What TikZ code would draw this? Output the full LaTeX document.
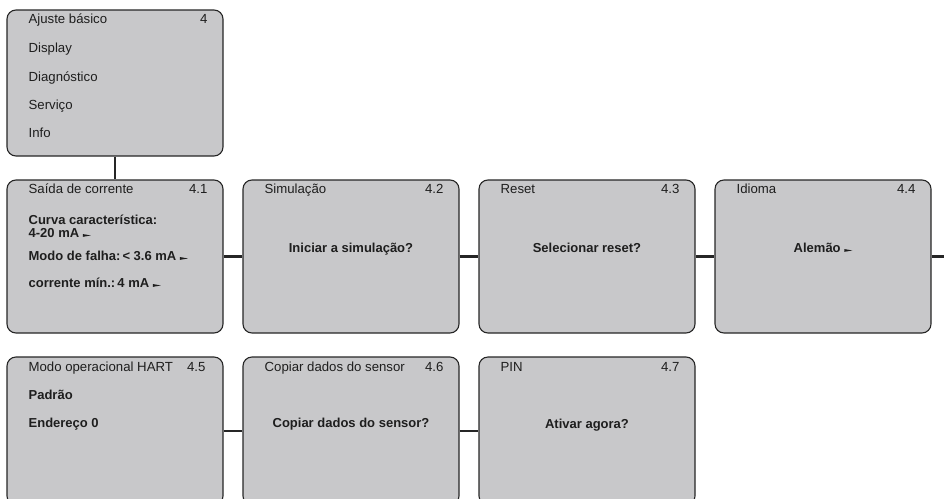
\documentclass[tikz,border=0pt]{standalone}
\usepackage{fontspec}
\setmainfont{Liberation Sans}
\usetikzlibrary{calc}

\definecolor{boxfill}{RGB}{200,200,202}
\definecolor{linedark}{RGB}{38,38,38}
\definecolor{textdark}{RGB}{30,30,30}

% small pointer after a value
\newcommand{\pointer}{\ \tikz[baseline=0pt]\fill[textdark] (0pt,0.6pt) -- (0pt,3.4pt) -- (8pt,2pt) -- cycle;}

\begin{document}
\begin{tikzpicture}[x=1pt, y=-1pt,
    menubox/.style={draw=linedark, line width=1.1pt, fill=boxfill, rounded corners=9pt,
        minimum width=216pt, inner sep=0pt},
    title/.style={inner sep=0pt, font=\fontsize{13.2}{15}\selectfont, text=textdark},
    value/.style={inner sep=0pt, font=\fontsize{13}{15}\selectfont\bfseries, text=textdark},
    link/.style={draw=linedark, line width=2.9pt}]

        % Frame
        \useasboundingbox (0,0) rectangle (944,498);
        \clip (0,0) rectangle (944,498);

        % Box sizes
        \def\rowA{256.5}
        \def\rowB{431}

        % Main menu
        \node[menubox, minimum height=146pt] (main) at (115,83) {};
        \node[title, anchor=base west] (mainT) at ($(main.north west)+(22,14)$) {Ajuste básico};
        \node[title, anchor=base east] (mainN) at ($(main.north east)+(-16,14)$) {4};
        \node[title, anchor=base west] (mainA) at ($(main.north west)+(22,43)$) {Display};
        \node[title, anchor=base west] (mainB) at ($(main.north west)+(22,72)$) {Diagnóstico};
        \node[title, anchor=base west] (mainC) at ($(main.north west)+(22,100)$) {Serviço};
        \node[title, anchor=base west] (mainD) at ($(main.north west)+(22,128)$) {Info};

        % First row
        \node[menubox, minimum height=153pt] (current) at (115,\rowA) {};
        \node[menubox, minimum height=153pt] (simul) at (351,\rowA) {};
        \node[menubox, minimum height=153pt] (reset) at (587,\rowA) {};
        \node[menubox, minimum height=153pt] (lang) at (823,\rowA) {};

        \node[title, anchor=base west] (currentT) at ($(current.north west)+(22,14)$) {Saída de corrente};
        \node[title, anchor=base east] (currentN) at ($(current.north east)+(-16,14)$) {4.1};
        \node[value, anchor=base west] (currentA) at ($(current.north west)+(22,45)$) {Curva característica:};
        \node[value, anchor=base west] (currentB) at ($(current.north west)+(22,58)$) {4-20 mA\pointer};
        \node[value, anchor=base west] (currentC) at ($(current.north west)+(22,81)$) {Modo de falha:\,< 3.6 mA\pointer};
        \node[value, anchor=base west] (currentD) at ($(current.north west)+(22,108)$) {corrente mín.:\,4 mA\pointer};

        \node[title, anchor=base west] (simulT) at ($(simul.north west)+(22,14)$) {Simulação};
        \node[title, anchor=base east] (simulN) at ($(simul.north east)+(-16,14)$) {4.2};
        \node[value, anchor=base] (simulA) at ($(simul.north)+(0,73)$) {Iniciar a simulação?};

        \node[title, anchor=base west] (resetT) at ($(reset.north west)+(22,14)$) {Reset};
        \node[title, anchor=base east] (resetN) at ($(reset.north east)+(-16,14)$) {4.3};
        \node[value, anchor=base] (resetA) at ($(reset.north)+(0,73)$) {Selecionar reset?};

        \node[title, anchor=base west] (langT) at ($(lang.north west)+(22,14)$) {Idioma};
        \node[title, anchor=base east] (langN) at ($(lang.north east)+(-16,14)$) {4.4};
        \node[value, anchor=base] (langA) at ($(lang.north)+(0,73)$) {Alemão\pointer};

        % Second row
        \node[menubox, minimum height=148pt] (hart) at (115,\rowB) {};
        \node[menubox, minimum height=148pt] (copy) at (351,\rowB) {};
        \node[menubox, minimum height=148pt] (pin) at (587,\rowB) {};

        \node[title, anchor=base west] (hartT) at ($(hart.north west)+(22,15)$) {Modo operacional HART};
        \node[title, anchor=base east] (hartN) at ($(hart.north east)+(-18,15)$) {4.5};
        \node[value, anchor=base west] (hartA) at ($(hart.north west)+(22,43)$) {Padrão};
        \node[value, anchor=base west] (hartB) at ($(hart.north west)+(22,71)$) {Endereço 0};

        \node[title, anchor=base west] (copyT) at ($(copy.north west)+(22,15)$) {Copiar dados do sensor};
        \node[title, anchor=base east] (copyN) at ($(copy.north east)+(-16,15)$) {4.6};
        \node[value, anchor=base] (copyA) at ($(copy.north)+(0,71)$) {Copiar dados do sensor?};

        \node[title, anchor=base west] (pinT) at ($(pin.north west)+(22,15)$) {PIN};
        \node[title, anchor=base east] (pinN) at ($(pin.north east)+(-16,15)$) {4.7};
        \node[value, anchor=base] (pinA) at ($(pin.north)+(0,72)$) {Ativar agora?};

        % Connectors
        \coordinate (more) at (944,\rowA);
        \draw[link] (main.south) -- (current.north);
        \draw[link] (current.east) -- (simul.west);
        \draw[link] (simul.east) -- (reset.west);
        \draw[link] (reset.east) -- (lang.west);
        \draw[link] (lang.east) -- (more);
        \draw[link] (hart.east) -- (copy.west);
        \draw[link] (copy.east) -- (pin.west);

    \end{tikzpicture}
\end{document}
